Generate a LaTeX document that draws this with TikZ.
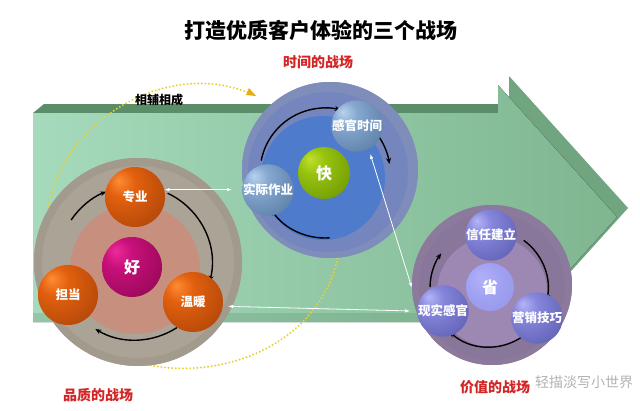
\documentclass[tikz,border=0pt]{standalone}
\usepackage{fontspec}
\setmainfont{Noto Sans CJK SC}
\usetikzlibrary{arrows.meta}

\definecolor{gfrontL}{HTML}{A5DABC}
\definecolor{gfrontR}{HTML}{7FB690}
\definecolor{gtop}{HTML}{5C8D69}
\definecolor{gside}{HTML}{70A57F}
\definecolor{ydot}{HTML}{E6D236}
\definecolor{yhead}{HTML}{E3AE1E}
\definecolor{qout}{HTML}{A39A8E}
\definecolor{qring}{HTML}{ACA397}
\definecolor{qin}{HTML}{C78F7E}
\definecolor{tout}{HTML}{7F8DBA}
\definecolor{tring}{HTML}{7486BD}
\definecolor{tin}{HTML}{4E7BCB}
\definecolor{vout}{HTML}{8B7A9C}
\definecolor{vring}{HTML}{88779B}
\definecolor{vin}{HTML}{9C88B3}
\definecolor{labred}{HTML}{D42424}
% ball colours
\definecolor{obA}{HTML}{FF8C34}
\definecolor{obB}{HTML}{E2600E}
\definecolor{obC}{HTML}{A84208}
\definecolor{obD}{HTML}{682604}
\definecolor{mbA}{HTML}{EE2A9A}
\definecolor{mbB}{HTML}{C8107A}
\definecolor{mbC}{HTML}{8E0652}
\definecolor{mbD}{HTML}{5E0336}
\definecolor{bbA}{HTML}{B6D2EE}
\definecolor{bbB}{HTML}{86A8D0}
\definecolor{bbC}{HTML}{55789F}
\definecolor{bbD}{HTML}{34506F}
\definecolor{kbA}{HTML}{C2E030}
\definecolor{kbB}{HTML}{98C410}
\definecolor{kbC}{HTML}{6A9400}
\definecolor{kbD}{HTML}{466400}
\definecolor{pbA}{HTML}{B4B4F8}
\definecolor{pbB}{HTML}{8686DC}
\definecolor{pbC}{HTML}{5A5AAE}
\definecolor{pbD}{HTML}{3A3A7E}
\definecolor{sbA}{HTML}{B0B0FA}
\definecolor{sbB}{HTML}{A0A0F2}
\definecolor{sbC}{HTML}{8C8CE2}

\pgfdeclareradialshading{orangeball}{\pgfpoint{-14bp}{14bp}}{color(0bp)=(obA); color(12bp)=(obB); color(42bp)=(obC); color(66bp)=(obD)}
\pgfdeclareradialshading{magball}{\pgfpoint{-14bp}{14bp}}{color(0bp)=(mbA); color(12bp)=(mbB); color(42bp)=(mbC); color(66bp)=(mbD)}
\pgfdeclareradialshading{blueball}{\pgfpoint{-14bp}{14bp}}{color(0bp)=(bbA); color(12bp)=(bbB); color(42bp)=(bbC); color(66bp)=(bbD)}
\pgfdeclareradialshading{greenball}{\pgfpoint{-14bp}{14bp}}{color(0bp)=(kbA); color(12bp)=(kbB); color(42bp)=(kbC); color(66bp)=(kbD)}
\pgfdeclareradialshading{purpball}{\pgfpoint{-14bp}{14bp}}{color(0bp)=(pbA); color(12bp)=(pbB); color(42bp)=(pbC); color(66bp)=(pbD)}
\pgfdeclareradialshading{shengball}{\pgfpoint{-10bp}{10bp}}{color(0bp)=(sbA); color(20bp)=(sbB); color(60bp)=(sbC)}

\tikzset{
  disk/.style={circle, inner sep=0pt, draw=none},
  ball/.style={circle, inner sep=0pt, draw=none, text=white, font=\bfseries\fontsize{12.5}{14}\selectfont},
  core/.style={ball, font=\bfseries\fontsize{16}{18}\selectfont},
  cyc/.style={black, line width=1.4pt, -{Stealth[length=6pt,width=5pt]}},
  conn/.style={white, line width=0.8pt, {Latex[length=5pt,width=3.5pt]}-{Latex[length=5pt,width=3.5pt]}},
  ydots/.style={ydot, line width=2.2pt, line cap=round, dash pattern=on 0pt off 3.6pt},
  lab/.style={text=labred, font=\bfseries\fontsize{14}{16}\selectfont},
}

\begin{document}
\begin{tikzpicture}[x=1pt, y=-1pt]
\useasboundingbox (0,0) rectangle (640,410);
\fill[white] (0,0) rectangle (640,410);

% ---------- green 3D arrow ----------
\fill[gside, shift={(11,-9)}] (33,113) -- (498,113) -- (498,85) -- (617,217) -- (498,349) -- (498,322) -- (33,322) -- cycle;
\fill[gtop] (33,113) -- (44,104) -- (509,104) -- (509,113) -- cycle;
\fill[left color=gfrontL, right color=gfrontR] (33,113) -- (498,113) -- (498,85) -- (617,217) -- (498,349) -- (498,322) -- (33,322) -- cycle;
\fill[gtop, opacity=0.25] (33,313) -- (498,313) -- (498,322) -- (33,322) -- cycle;

% ---------- disks (nodes) ----------
\node[disk, minimum size=208pt, fill=qout] (qdisk) at (138,262) {};
\node[disk, minimum size=176pt, fill=tout] (tdisk) at (330,170) {};
\node[disk, minimum size=160pt, fill=vout] (vdisk) at (492,285) {};

% ---------- yellow dotted arcs ----------
\coordinate (yend) at (256,96);
\draw[ydots] (qdisk.150) .. controls (62,120) and (170,55) .. (yend);
\fill[yhead] (yend) -- ++(-10,-1) -- ++(3,-7) -- cycle;
\draw[ydots] (qdisk.-83) .. controls (230,380) and (320,340) .. (tdisk.-85);

% redraw disks over the hidden dotted parts
\node[disk, minimum size=208pt, fill=qout] (qdisk2) at (138,262) {};
\node[disk, minimum size=192pt, fill=qring] (qring) at (138,262) {};
\node[disk, minimum size=130pt, fill=qin] (qin) at (135,269) {};

\node[disk, minimum size=176pt, fill=tout] (tdisk2) at (330,170) {};
\node[disk, minimum size=160pt, fill=tring] (tring) at (328,172) {};
\node[disk, minimum size=124pt, fill=tin] (tin) at (323,178) {};

\node[disk, minimum size=160pt, fill=vout] (vdisk2) at (492,285) {};
\node[disk, minimum size=146pt, fill=vring] (vring) at (492,287) {};
\node[disk, minimum size=110pt, fill=vin] (vin) at (492,292) {};

% ---------- cycle arcs ----------
\coordinate (qc) at (135,263);
\coordinate (tc) at (325,173);
\coordinate (vc) at (489,288);
\draw[cyc] (qc) ++(-65:77) arc[start angle=-65, end angle=14, radius=77];
\draw[cyc] (qc) ++(57:77) arc[start angle=57, end angle=121, radius=77];
\draw[cyc] (qc) ++(214:77) arc[start angle=214, end angle=248, radius=77];

\draw[cyc] (tc) ++(191:65) arc[start angle=191, end angle=284, radius=65];
\draw[cyc] (tc) ++(327:65) arc[start angle=327, end angle=352, radius=65];
\draw[cyc] (tc) ++(86:65) arc[start angle=86, end angle=146, radius=65];

\draw[cyc] (vc) ++(181:59) arc[start angle=181, end angle=216, radius=59];
\draw[cyc] (vc) ++(306:59) arc[start angle=306, end angle=372, radius=59];
\draw[cyc] (vc) ++(55:59) arc[start angle=55, end angle=132, radius=59];

% ---------- balls ----------
\node[ball, minimum size=60pt, shading=orangeball] (zy) at (135,197) {专业};
\node[ball, minimum size=60pt, shading=orangeball] (dd) at (68,295) {担当};
\node[ball, minimum size=60pt, shading=orangeball] (wn) at (193,302) {温暖};
\node[core, minimum size=60pt, shading=magball] (hao) at (132,267) {好};

\node[ball, minimum size=47pt, shading=blueball] (gg) at (357,126) {感官时间};
\node[ball, minimum size=50pt, shading=blueball] (sj) at (268,190) {实际作业};
\node[core, minimum size=52pt, shading=greenball] (kuai) at (324,173) {快};

\node[ball, minimum size=46pt, shading=purpball] (xr) at (491,235) {信任建立};
\node[core, minimum size=48pt, shading=shengball] (sheng) at (490,287) {省};
\node[ball, minimum size=47pt, shading=purpball] (xs) at (443,311) {现实感官};
\node[ball, minimum size=47pt, shading=purpball] (yx) at (537,318) {营销技巧};

% ---------- white connectors ----------
\draw[conn, shorten >=10pt] (zy.14) -- (zy.14 -| sj.west);
\draw[conn, shorten <=5pt, shorten >=6pt] (wn.-8) -- (vdisk.199);
\draw[conn, shorten <=5pt] (gg.-63) -- (vdisk.182);

% ---------- texts ----------
\node[font=\bfseries\fontsize{21}{24}\selectfont] (title) at (321,30) {打造优质客户体验的三个战场};
\node[lab] (tlab) at (318,62) {时间的战场};
\node[lab] (qlab) at (98,395) {品质的战场};
\node[lab] (vlab) at (495,387) {价值的战场};
\node[font=\bfseries\fontsize{12}{14}\selectfont] (xf) at (159,100) {相辅相成};
\node[text=black!40, opacity=0.75, font=\fontsize{14}{16}\selectfont] (wm) at (584,382) {轻描淡写小世界};
\end{tikzpicture}
\end{document}
